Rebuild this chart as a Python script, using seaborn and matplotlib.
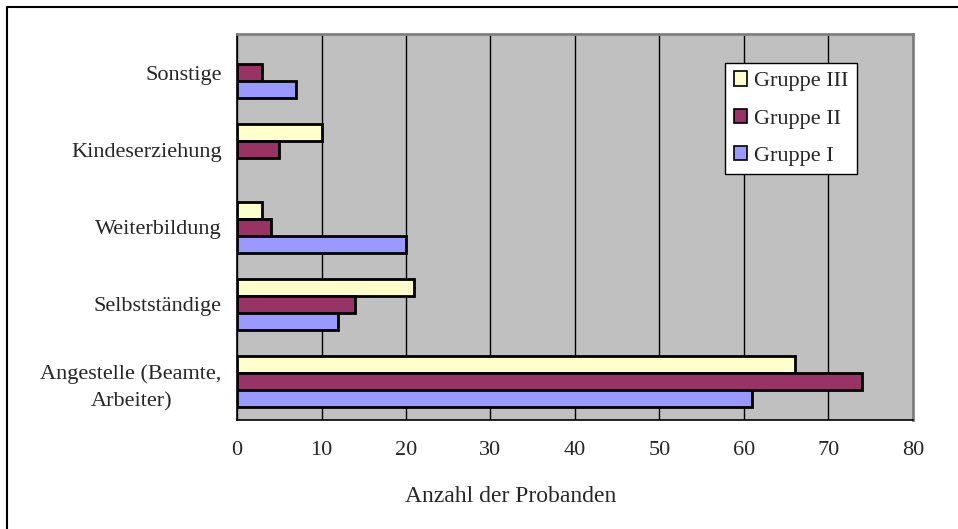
import numpy as np
import pandas as pd
import matplotlib
matplotlib.use("Agg")
import matplotlib.pyplot as plt
from matplotlib.lines import Line2D
from matplotlib.patches import Patch
import seaborn as sns

categories = ["Sonstige", "Kindeserziehung", "Weiterbildung", "Selbstständige",
              "Angestelle (Beamte,\nArbeiter)"]
groups = ["Gruppe III", "Gruppe II", "Gruppe I"]
gruppe_3 = [np.nan, 10, 3, 21, 66]
gruppe_2 = [3, 5, 4, 14, 74]
gruppe_1 = [7, np.nan, 20, 12, 61]
colors = {"Gruppe III": "#FFFFCC", "Gruppe II": "#993366", "Gruppe I": "#9999FF"}

rows = []
for g, vals in zip(groups, [gruppe_3, gruppe_2, gruppe_1]):
    for c, v in zip(categories, vals):
        if not np.isnan(v):
            rows.append({"Kategorie": c, "Gruppe": g, "Anzahl": v})
df = pd.DataFrame(rows)

sns.set_style("white")
plt.rcParams["font.family"] = ["Liberation Serif", "DejaVu Serif"]
plt.rcParams["font.size"] = 16

fig = plt.figure(figsize=(9.58, 5.29), dpi=100)
ax = fig.add_axes([0.2474, 0.206, 0.7056, 0.7296])
ax.set_facecolor("#C0C0C0")

sns.barplot(data=df, y="Kategorie", x="Anzahl", hue="Gruppe", order=categories,
            hue_order=groups, palette=colors, orient="h", width=0.66,
            edgecolor="black", linewidth=2, saturation=1, ax=ax, legend=False)

ax.set_xlim(0, 80)
ax.set_ylim(len(categories) - 0.5, -0.5)
ax.set_xticks(np.arange(0, 81, 10))
ax.xaxis.grid(True, color="black", linewidth=1)
ax.set_axisbelow(True)

ax.set_yticks(range(len(categories)))
ax.set_yticklabels(categories, ha="right", multialignment="center", linespacing=1.6)
ax.tick_params(axis="y", length=0, pad=11, labelsize=16)
ax.set_yticks(np.arange(-0.5, len(categories), 1), minor=True)
ax.tick_params(axis="y", which="minor", length=5, width=1, color="black")
ax.tick_params(axis="x", length=6, width=1, color="black", pad=9, labelsize=16)
ax.set_ylabel("")
ax.set_xlabel("Anzahl der Probanden", fontsize=17)
ax.xaxis.set_label_coords(0.405, -0.197)
ax.xaxis.label.set_va("center")

for s in ["left", "bottom"]:
    ax.spines[s].set_color("black")
    ax.spines[s].set_linewidth(1.2)
for s in ["top", "right"]:
    ax.spines[s].set_color("#808080")
    ax.spines[s].set_linewidth(2)

handles = [Patch(facecolor=colors[g], edgecolor="black", linewidth=1.2, label=g)
           for g in groups]
leg = ax.legend(handles=handles, loc="upper left", bbox_to_anchor=(0.722, 0.925),
                frameon=True, fancybox=False, handlelength=0.6, handleheight=0.6,
                handletextpad=0.32, labelspacing=0.78, borderpad=0.38,
                borderaxespad=0, fontsize=16)
leg.get_frame().set_edgecolor("black")
leg.get_frame().set_linewidth(1)
leg.get_frame().set_facecolor("white")
leg.get_frame().set_alpha(1)

fig.add_artist(Line2D([7 / 958, 7 / 958], [1 - 7 / 529, 0], color="black", linewidth=1.5))
fig.add_artist(Line2D([7 / 958, 1], [1 - 7 / 529, 1 - 7 / 529], color="black", linewidth=1.5))

fig.savefig("out.png", dpi=100)
